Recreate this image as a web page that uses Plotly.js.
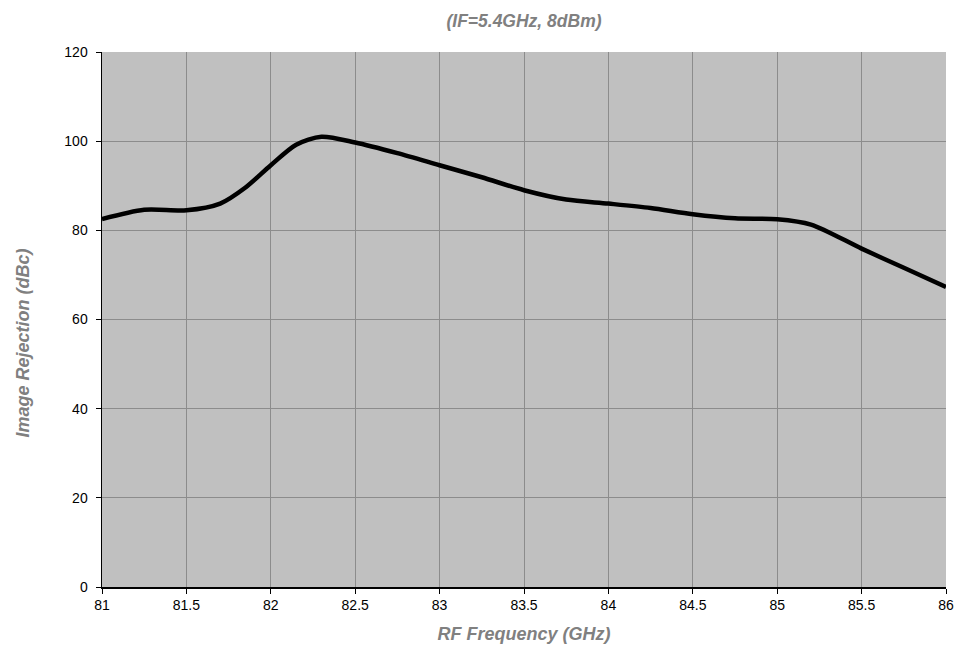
<!DOCTYPE html>
<html>
<head>
<meta charset="utf-8">
<script src="https://cdn.plot.ly/plotly-3.0.1.min.js"></script>
<style>html,body{margin:0;padding:0;background:#fff;}#chart{width:955px;height:657px;}</style>
</head>
<body>
<div id="chart"></div>
<script>
const freqGHz = [81, 81.25, 81.5, 81.7, 81.85, 82, 82.15, 82.3, 82.5, 82.75, 83, 83.25, 83.5, 83.75, 84, 84.25, 84.5, 84.75, 85, 85.2, 85.5, 85.75, 86];
const rejectionDBc = [82.5, 84.6, 84.5, 86.0, 89.6, 94.6, 99.2, 101, 99.7, 97.3, 94.6, 91.9, 89.0, 86.9, 86.0, 85.0, 83.6, 82.7, 82.5, 81.3, 75.9, 71.6, 67.3];
const xTicks = [81, 81.5, 82, 82.5, 83, 83.5, 84, 84.5, 85, 85.5, 86];
const yTicks = [0, 20, 40, 60, 80, 100, 120];

const trace = {
  x: freqGHz, y: rejectionDBc, type: 'scatter', mode: 'lines',
  line: {color: '#000000', width: 4.5, shape: 'spline', smoothing: 0.8},
  hoverinfo: 'skip'
};
const fam = 'Arial, "Liberation Sans", sans-serif';
const titleFont = {family: fam, size: 18, color: '#808080', weight: 'bold', style: 'italic'};
const layout = {
  width: 955, height: 657,
  margin: {l: 101.5, r: 9, t: 52, b: 70},
  paper_bgcolor: '#ffffff', plot_bgcolor: '#c0c0c0',
  showlegend: false,
  title: {text: '(IF=5.4GHz, 8dBm)', xref: 'paper', x: 0.5, xanchor: 'center', yref: 'container', y: 0.968, yanchor: 'middle',
          font: {family: fam, size: 17.5, color: '#808080', weight: 'bold', style: 'italic'}},
  xaxis: {
    range: [81, 86], tickvals: xTicks, ticktext: xTicks.map(String),
    showgrid: true, gridcolor: '#8c8c8c', gridwidth: 1,
    showline: true, linecolor: '#000', linewidth: 1.5, mirror: false,
    ticks: 'outside', ticklen: 5, tickcolor: '#000',
    tickfont: {family: fam, size: 14, color: '#000'},
    zeroline: false,
    title: {text: 'RF Frequency (GHz)', font: titleFont, standoff: 15}
  },
  yaxis: {
    range: [0, 120], tickvals: yTicks, ticktext: yTicks.map(String),
    showgrid: true, gridcolor: '#8c8c8c', gridwidth: 1,
    showline: true, linecolor: '#000', linewidth: 1.5,
    ticks: 'outside', ticklen: 5, tickcolor: '#000', ticklabelstandoff: 5,
    tickfont: {family: fam, size: 14, color: '#000'},
    zeroline: false
  },
  annotations: [{
    text: 'Image Rejection (dBc)', xref: 'paper', yref: 'paper',
    x: -0.093, y: 0.456, xanchor: 'center', yanchor: 'middle',
    textangle: -90, showarrow: false, font: titleFont
  }]
};
Plotly.newPlot('chart', [trace], layout, {displayModeBar: false, staticPlot: true});
</script>
</body>
</html>
